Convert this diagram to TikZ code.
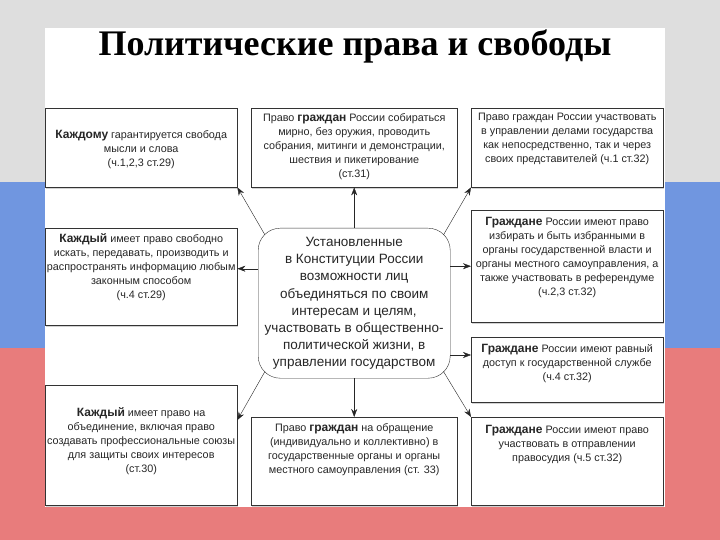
\documentclass[tikz,border=0pt]{standalone}
\usepackage{fontspec}
\setmainfont{Liberation Serif}
\newfontfamily\boxfont{Liberation Sans}
\usetikzlibrary{positioning,shadows,arrows.meta}

\definecolor{flagblue}{RGB}{112,150,224}
\definecolor{flagred}{RGB}{232,124,124}
\definecolor{marble}{RGB}{222,222,222}
\newcommand{\kw}[1]{{\fontsize{12}{14}\selectfont\bfseries #1}}

\begin{document}
\begin{tikzpicture}[x=1pt, y=-1pt,
  box/.style={draw=black!80, fill=white, inner sep=0pt, anchor=north west,
    minimum width=192pt, drop shadow={shadow xshift=1pt, shadow yshift=-1.5pt, opacity=0.35}},
  midbox/.style={box, minimum width=206pt},
  txt/.style={font=\boxfont\fontsize{10.8}{14}\selectfont, text=black!85, align=center, inner sep=0pt},
  arr/.style={-{Stealth[length=8pt, width=6pt]}, black!85}]
% background
\useasboundingbox (0,0) rectangle (720,540);
\fill[marble] (0,0) rectangle (720,182);
\fill[flagblue] (0,182) rectangle (720,348);
\fill[flagred] (0,348) rectangle (720,540);
\fill[white] (45,28) rectangle (665,507);
\node[anchor=base, font=\fontsize{36}{38}\selectfont\bfseries] (title) at (355,56) {Политические права и свободы};

% boxes
\node[box, minimum height=79pt] (ltop) at (45,108) {};
\node[midbox, minimum height=79pt] (mtop) at (251,108) {};
\node[box, minimum height=79pt] (rtop) at (471,108) {};
\node[box, minimum height=97pt] (lmid) at (45,228) {};
\node[box, minimum height=112pt] (rmid) at (471,210) {};
\node[box, minimum height=65pt] (rlow) at (471,337) {};
\node[box, minimum height=120pt] (lbot) at (45,385) {};
\node[midbox, minimum height=88pt] (mbot) at (251,417) {};
\node[box, minimum height=88pt] (rbot) at (471,417) {};
\node[draw=black!80, fill=white, rounded corners=22pt, anchor=north west,
  minimum width=192pt, minimum height=150pt] (ctr) at (258,228) {};

% arrows
\draw[arr] (ctr) -- (mtop);
\draw[arr] (ctr) -- (mbot);
\draw[arr] ([yshift=8pt]ctr.west |- lmid.east) -- ([yshift=8pt]lmid.east);
\draw[arr] (ctr.east |- rmid.west) -- (rmid.west);
\draw[arr] ([yshift=-18pt]ctr.east |- rlow.north west) -- ([yshift=-18pt]rlow.north west);
\draw[arr] ([shift={(7,7)}]ctr.north west) -- (ltop.south east);
\draw[arr] ([shift={(-7,7)}]ctr.north east) -- (rtop.south west);
\draw[arr] ([shift={(7,-7)}]ctr.south west) -- ([yshift=-35pt]lbot.north east);
\draw[arr] ([shift={(-7,-7)}]ctr.south east) -- (rbot.north west);

% texts
\node[txt, below=22pt of ltop.north] (ltopt) {\kw{Каждому} гарантируется свобода\\мысли и слова\\(ч.1,2,3 ст.29)};
\node[txt, below=5pt of mtop.north] (mtopt) {Право \kw{граждан} России собираться\\мирно, без оружия, проводить\\собрания, митинги и демонстрации,\\шествия и пикетирование\\(ст.31)};
\node[txt, below=5pt of rtop.north] (rtopt) {Право граждан России участвовать\\в управлении делами государства\\как непосредственно, так и через\\своих представителей (ч.1 ст.32)};
\node[txt, below=5pt of lmid.north] (lmidt) {\kw{Каждый} имеет право свободно\\искать, передавать, производить и\\распространять информацию любым\\законным способом\\(ч.4 ст.29)};
\node[txt, below=7pt of rmid.north] (rmidt) {\kw{Граждане} России имеют право\\избирать и быть избранными в\\органы государственной власти и\\органы местного самоуправления, а\\также участвовать в референдуме\\(ч.2,3 ст.32)};
\node[txt, below=7pt of rlow.north] (rlowt) {\kw{Граждане} России имеют равный\\доступ к государственной службе\\(ч.4 ст.32)};
\node[txt, below=22pt of lbot.north] (lbott) {\kw{Каждый} имеет право на\\объединение, включая право\\создавать профессиональные союзы\\для защиты своих интересов\\(ст.30)};
\node[txt, below=6pt of mbot.north] (mbott) {Право \kw{граждан} на обращение\\(индивидуально и коллективно) в\\государственные органы и органы\\местного самоуправления (ст. 33)};
\node[txt, below=8pt of rbot.north] (rbott) {\kw{Граждане} России имеют право\\участвовать в отправлении\\правосудия (ч.5 ст.32)};
\node[txt, font=\boxfont\fontsize{13.5}{17.2}\selectfont, below=9pt of ctr.north] (ctrt) {Установленные\\в Конституции России\\возможности лиц\\объединяться по своим\\интересам и целям,\\участвовать в общественно-\\политической жизни, в\\управлении государством};
\end{tikzpicture}
\end{document}
